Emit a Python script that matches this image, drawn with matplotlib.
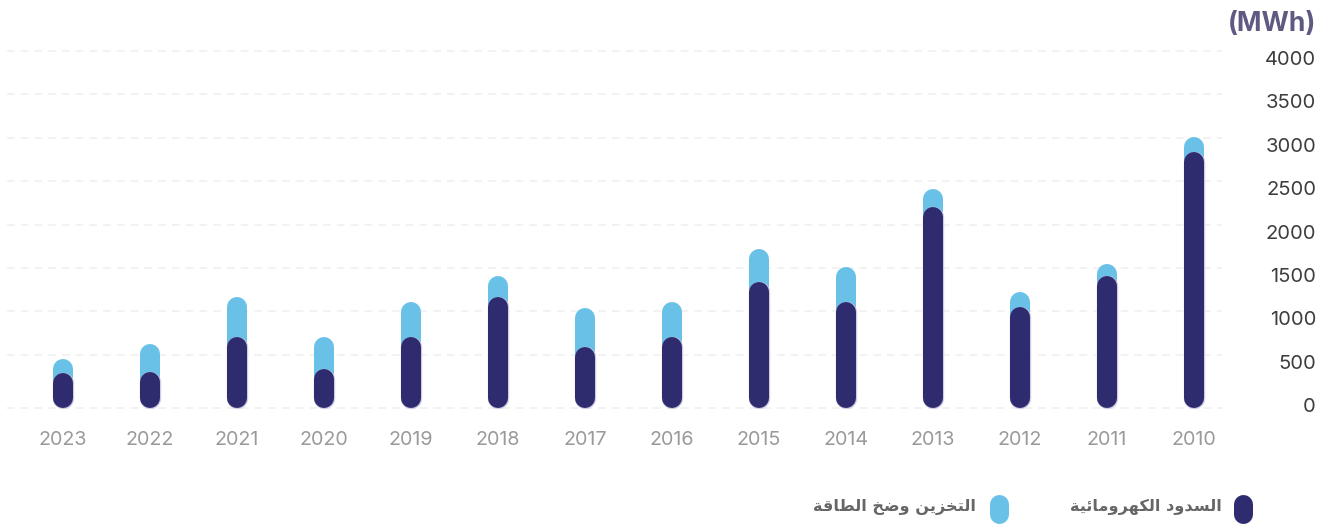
import matplotlib
matplotlib.use("Agg")
import matplotlib.pyplot as plt
from matplotlib.lines import Line2D
import numpy as np

# ---------------- data ----------------
years = ["2023", "2022", "2021", "2020", "2019", "2018", "2017",
         "2016", "2015", "2014", "2013", "2012", "2011", "2010"]
hydro = [175, 180, 585, 220, 585, 1045, 470, 585, 1220, 990, 2085, 930, 1295, 2715]
storage = [165, 325, 460, 365, 405, 250, 455, 405, 380, 400, 210, 175, 135, 175]
yticks = [0, 500, 1000, 1500, 2000, 2500, 3000, 3500, 4000]
unit_label = "(MWh)"
legend_hydro = "السدود الكهرومائية"
legend_storage = "التخزين وضخ الطاقة"

# ---------------- simple Arabic shaping (presentation forms) ----------------
_AR = {  # char: (isolated form code, number of forms)
    'ا': (0xFE8D, 2), 'ئ': (0xFE89, 4), 'ة': (0xFE93, 2), 'ت': (0xFE95, 4),
    'خ': (0xFEA5, 4), 'د': (0xFEA9, 2), 'ر': (0xFEAD, 2), 'ز': (0xFEAF, 2),
    'س': (0xFEB1, 4), 'ض': (0xFEBD, 4), 'ط': (0xFEC1, 4), 'ق': (0xFED5, 4),
    'ك': (0xFED9, 4), 'ل': (0xFEDD, 4), 'م': (0xFEE1, 4), 'ن': (0xFEE5, 4),
    'ه': (0xFEE9, 4), 'و': (0xFEED, 2), 'ي': (0xFEF1, 4),
}


def shape_ar(text):
    out = []
    n = len(text)
    for i, ch in enumerate(text):
        if ch not in _AR:
            out.append(ch)
            continue
        base, nf = _AR[ch]
        prev = text[i - 1] if i > 0 else None
        nxt = text[i + 1] if i < n - 1 else None
        jp = prev in _AR and _AR[prev][1] == 4
        jn = nf == 4 and nxt in _AR
        if jp and jn:
            code = base + 3
        elif jp:
            code = base + 1
        elif jn:
            code = base + 2
        else:
            code = base
        out.append(chr(code))
    return "".join(out)[::-1]


# ---------------- figure ----------------
W, H, DPI = 1321, 528, 100
fig = plt.figure(figsize=(W / DPI, H / DPI), dpi=DPI)
fig.patch.set_facecolor("white")

ax = fig.add_axes([7 / W, (H - 419.7) / H, (1222 - 7) / W, (419.7 - 40.6) / H])
ax.set_xlim(-0.644, 13.322)
ax.set_ylim(-250, 4120)

c_dark = "#2f2b6f"
c_light = "#6ac1e8"
bar_lw = 20 * 72 / DPI  # 20 px thick

x = np.arange(len(years))
hydro_a = np.array(hydro)
total = hydro_a + np.array(storage)

for xi, t, h in zip(x, total, hydro_a):
    ax.plot([xi, xi], [0, t], color=c_light, lw=bar_lw, solid_capstyle="round", zorder=3)
    ax.plot([xi, xi], [0, h], color="#cfcce4", lw=bar_lw + 1.0, solid_capstyle="round", zorder=4)
    ax.plot([xi, xi], [0, h], color=c_dark, lw=bar_lw, solid_capstyle="round", zorder=5)

# gridlines
grid_kw = dict(color="#efefef", lw=1.1, ls=(0, (5, 4)), zorder=1)
ax.set_yticks(yticks)
for v in yticks[1:]:
    ax.axhline(v, **grid_kw)
# baseline gridline at the bottom of the bars
px_per_unit = (419.7 - 40.6) / (4120 + 250)
base_val = -10 / px_per_unit
ax.axhline(base_val, **grid_kw)

for s in ax.spines.values():
    s.set_visible(False)

ax.yaxis.tick_right()
ax.tick_params(axis="y", length=0, pad=(1316 - 1222) * 72 / DPI, labelsize=14.5,
               labelcolor="#3d3d3d")
for lab in ax.get_yticklabels():
    lab.set_horizontalalignment("right")
    lab.set_verticalalignment("top")
    lab.set_fontfamily("Inter")

ax.set_xticks(x)
ax.set_xticklabels(years)
ax.tick_params(axis="x", length=0, pad=8, labelsize=14.2, labelcolor="#9a9a9a")
for lab in ax.get_xticklabels():
    lab.set_fontfamily("Inter")

# unit label
fig.text(1316 / W, 1 - 24 / H, unit_label, ha="right", va="center",
         fontsize=19, fontweight="bold", color="#5e5a82", family="Inter")

# legend (manual, pill markers)
pill_lw = 19 * 72 / DPI
half = 5 / H
for cx, col, label, tx in [(1242.5, c_dark, legend_hydro, 1222),
                           (999, c_light, legend_storage, 976)]:
    fig.add_artist(Line2D([cx / W, cx / W], [1 - 508.5 / H - half, 1 - 508.5 / H + half],
                          color=col, lw=pill_lw, solid_capstyle="round",
                          transform=fig.transFigure))
    fig.text(tx / W, 1 - 507 / H, shape_ar(label), ha="right", va="center",
             fontsize=11.6, fontweight="bold", color="#666666", family="DejaVu Sans")

fig.savefig("out.png", dpi=DPI, facecolor="white")
